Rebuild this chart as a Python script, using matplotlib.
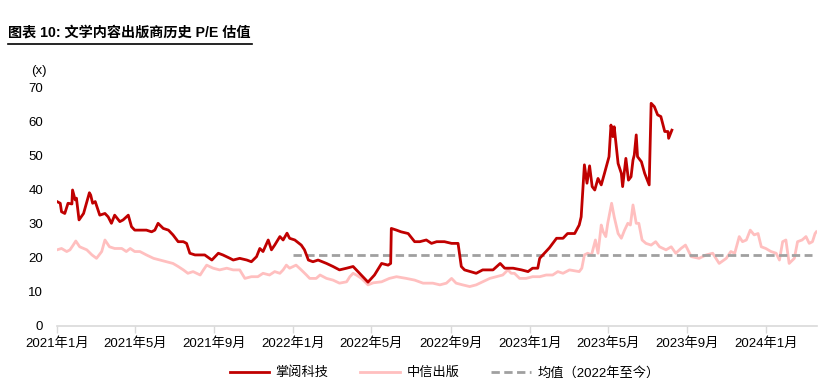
import numpy as np
import pandas as pd
import matplotlib
matplotlib.use("Agg")
import matplotlib.pyplot as plt
from matplotlib.lines import Line2D

plt.rcParams['font.family'] = ['Liberation Sans', 'Noto Sans CJK SC', 'DejaVu Sans']

START = pd.Timestamp("2021-01-01")

# 掌阅科技 P/E: days since 2021-01-01, value
zy_days = [0, 5, 7, 12, 17, 23, 24, 28, 30, 34, 41, 47, 50, 52, 55, 59, 66, 74, 79, 84,
           89, 97, 102, 110, 115, 120, 128, 138, 146, 151, 156, 164, 172, 179, 187, 195, 200, 205,
           213, 221, 228, 239, 249, 256, 267, 272, 282, 293, 300, 308, 313, 318, 326, 331, 336,
           344, 349, 355, 359, 367, 377, 382, 388, 395, 403, 416, 426, 436, 447, 457, 467, 480,
           490, 501, 511, 515, 516, 524, 531, 542, 552, 560, 570, 578, 586, 598, 609, 619, 624,
           629, 647, 657, 673, 684, 691, 704, 717, 727, 734, 742, 745, 760, 771, 781, 788, 799,
           806, 809, 814, 818, 822, 826, 830, 835, 840, 845, 852, 855, 858, 860, 866, 871, 873,
           878, 882, 886, 889, 891, 894, 896, 902, 907, 914, 917, 922, 927, 932, 938, 943, 944, 949]
zy_pe = [36.6, 36.1, 33.6, 33.1, 36.1, 35.9, 40.0, 37.1, 37.6, 31.2, 33.1, 37.1, 39.2, 38.5, 36.1,
         36.6, 32.6, 33.1, 32.1, 30.2, 32.6, 30.7, 31.2, 32.6, 29.2, 28.2, 28.2, 28.2, 27.7, 28.2,
         30.2, 28.7, 28.2, 26.8, 24.8, 24.8, 24.3, 21.4, 20.9, 20.9, 20.9, 19.4, 21.4, 20.9, 19.9,
         19.4, 19.9, 19.4, 18.9, 20.4, 22.8, 21.9, 25.3, 22.4, 23.8, 26.3, 25.3, 27.3, 25.8, 25.3,
         23.8, 22.4, 19.4, 18.9, 19.4, 18.4, 17.5, 16.5, 17.0, 17.5, 15.5, 12.9, 15.0, 18.4, 17.9,
         18.4, 28.7, 28.2, 27.7, 27.2, 24.8, 24.8, 25.3, 24.3, 24.8, 24.8, 24.3, 24.3, 17.5, 16.5,
         15.5, 16.5, 16.5, 18.4, 17.0, 17.0, 16.5, 16.0, 17.0, 17.0, 19.9, 23.0, 25.8, 25.8, 27.2,
         27.2, 29.7, 32.1, 47.4, 42.0, 47.1, 41.0, 40.0, 43.4, 41.5, 44.9, 49.8, 59.1, 55.7, 58.6,
         47.8, 44.9, 41.0, 49.3, 42.9, 43.9, 48.8, 50.3, 56.2, 49.8, 48.3, 44.9, 41.5, 65.5, 64.5,
         62.1, 61.6, 57.2, 57.2, 55.2, 57.6]

# 中信出版 P/E
zx_days = [0, 7, 15, 20, 25, 29, 35, 41, 46, 54, 61, 69, 74, 81, 89, 100, 107, 113, 120, 128,
           138, 149, 159, 169, 179, 187, 195, 202, 210, 221, 226, 231, 241, 251, 262, 272, 282,
           290, 300, 310, 318, 328, 336, 344, 349, 354, 359, 369, 377, 385, 390, 400, 406, 416,
           426, 436, 447, 452, 457, 462, 470, 480, 488, 501, 513, 524, 539, 552, 565, 580, 591,
           601, 609, 616, 626, 637, 647, 657, 668, 678, 688, 696, 701, 706, 714, 724, 734, 745,
           755, 765, 773, 781, 791, 806, 810, 814, 819, 825, 831, 835, 840, 843, 847, 850, 856,
           860, 866, 871, 876, 881, 885, 889, 894, 898, 903, 909, 917, 924, 930, 940, 948, 955,
           963, 970, 979, 991, 1002, 1012, 1022, 1033, 1040, 1046, 1053, 1058, 1064, 1070, 1076,
           1082, 1087, 1094, 1102, 1110, 1115, 1120, 1125, 1130, 1138, 1143, 1150, 1156, 1161,
           1166, 1170, 1172]
zx_pe = [22.4, 22.8, 21.9, 22.4, 23.8, 25.0, 23.3, 22.8, 22.4, 20.9, 19.9, 21.9, 25.3, 23.3, 22.8,
         22.8, 21.9, 22.8, 21.9, 21.9, 20.9, 19.9, 19.4, 18.9, 18.4, 17.5, 16.5, 15.5, 16.0, 15.0,
         16.5, 17.9, 17.0, 16.5, 17.0, 16.5, 16.5, 14.0, 14.5, 14.5, 15.5, 15.0, 16.0, 15.5, 16.5,
         17.9, 17.0, 17.9, 16.5, 15.0, 14.0, 14.0, 15.0, 14.0, 13.5, 12.6, 13.0, 14.5, 15.5, 15.0,
         14.0, 12.1, 12.7, 13.0, 14.0, 14.5, 14.0, 13.5, 12.6, 12.6, 12.1, 12.6, 14.0, 12.6, 12.1,
         11.6, 12.1, 13.0, 14.0, 14.5, 15.0, 16.5, 15.5, 15.5, 14.0, 14.0, 14.5, 14.5, 15.0, 15.0,
         16.0, 15.5, 16.5, 16.0, 17.0, 20.9, 21.4, 20.9, 25.3, 21.4, 29.7, 27.7, 26.3, 30.2, 36.1,
         32.1, 27.2, 25.8, 28.2, 30.2, 29.7, 35.6, 30.2, 30.2, 25.3, 24.3, 23.8, 24.8, 23.3, 22.4,
         23.3, 21.4, 22.8, 23.8, 20.4, 19.9, 20.9, 21.4, 18.4, 19.9, 21.9, 21.4, 26.3, 24.8, 25.3,
         28.2, 26.8, 27.2, 23.3, 22.8, 21.9, 21.4, 19.4, 24.8, 25.3, 18.4, 19.9, 24.8, 25.3, 26.3,
         24.3, 24.8, 27.2, 27.7]

# 均值（2022年至今）
mean_days = [365, 1166]
mean_pe = [21.0, 21.0]

tick_months = ["2021-01", "2021-05", "2021-09", "2022-01", "2022-05", "2022-09",
               "2023-01", "2023-05", "2023-09", "2024-01"]
tick_labels = ["2021年1月", "2021年5月", "2021年9月", "2022年1月", "2022年5月", "2022年9月",
               "2023年1月", "2023年5月", "2023年9月", "2024年1月"]


def to_dates(days):
    return START + pd.to_timedelta(days, unit="D")


def main():
    fig = plt.figure(figsize=(8.36, 3.78), dpi=100)
    ax = fig.add_axes([57 / 836, 52 / 378, 760 / 836, 238 / 378])

    ax.plot(to_dates(zx_days), zx_pe, color="#FFBFBF", linewidth=2, label="中信出版", zorder=2)
    ax.plot(to_dates(mean_days), mean_pe, color="#A0A0A0", linewidth=2, linestyle=(0, (3, 1.6)),
            label="均值（2022年至今）", zorder=3)
    ax.plot(to_dates(zy_days), zy_pe, color="#C00000", linewidth=2, label="掌阅科技", zorder=4)

    ax.set_xlim(START, to_dates([1173])[0])
    ax.set_ylim(0, 70)
    ax.set_yticks(range(0, 71, 10))
    ax.set_xticks(pd.to_datetime(tick_months))
    ax.set_xticklabels(tick_labels)

    for side in ["top", "right", "left"]:
        ax.spines[side].set_visible(False)
    ax.spines["bottom"].set_color("#D9D9D9")
    ax.spines["bottom"].set_linewidth(1.2)
    ax.tick_params(axis="x", length=5, width=1, color="#D9D9D9", labelsize=9.5, pad=3)
    ax.tick_params(axis="y", length=0, labelsize=9.5, pad=10)

    ax.text(-0.024, 1.07, "(x)", transform=ax.transAxes, fontsize=9.5, ha="center", va="center")

    fig.text(8 / 836, 1 - 33 / 378, "图表 10: 文学内容出版商历史 P/E 估值", fontsize=10.2,
             fontweight="bold", ha="left", va="center")
    fig.add_artist(Line2D([8 / 836, 252 / 836], [1 - 44 / 378, 1 - 44 / 378],
                          color="black", linewidth=1.2))

    handles, labels = ax.get_legend_handles_labels()
    order = [2, 0, 1]
    ax.legend([handles[i] for i in order], [labels[i] for i in order],
              loc="upper center", bbox_to_anchor=(0.51, -0.12), ncol=3, frameon=False,
              fontsize=9.5, handlelength=3.0, columnspacing=2.4, handletextpad=0.5)

    fig.savefig("out.png", dpi=100)


if __name__ == "__main__":
    main()
